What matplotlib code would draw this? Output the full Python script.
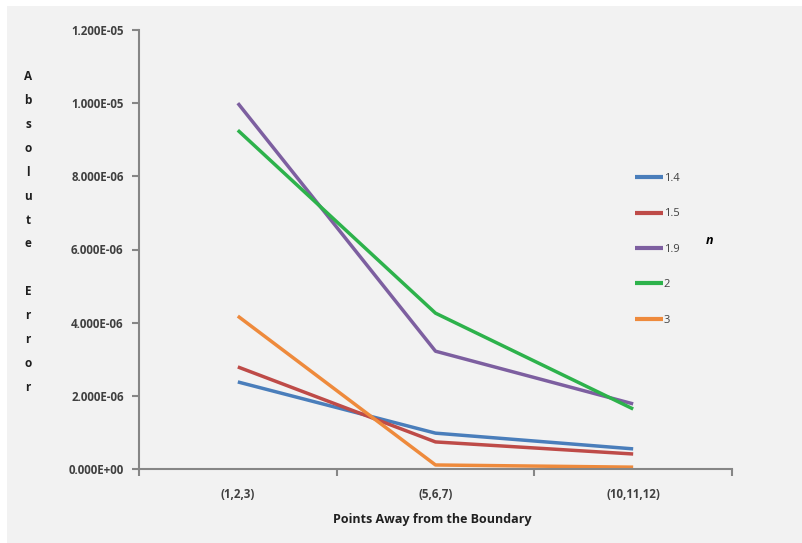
import matplotlib
matplotlib.use('Agg')
import matplotlib.pyplot as plt
from matplotlib.patches import Rectangle

categories = ['(1,2,3)', '(5,6,7)', '(10,11,12)']
series_names = ['1.4', '1.5', '1.9', '2', '3']
err_14 = [2.38e-6, 0.98e-6, 0.55e-6]
err_15 = [2.79e-6, 0.74e-6, 0.41e-6]
err_19 = [10.0e-6, 3.22e-6, 1.78e-6]
err_2 = [9.26e-6, 4.26e-6, 1.64e-6]
err_3 = [4.18e-6, 0.11e-6, 0.05e-6]
yticks = [0, 2e-6, 4e-6, 6e-6, 8e-6, 10e-6, 12e-6]

colors = ['#4A7EBB', '#BE4B48', '#7D5FA0', '#2DB24B', '#EE8A3C']
all_series = [err_14, err_15, err_19, err_2, err_3]

plt.rcParams['font.family'] = ['Open Sans', 'DejaVu Sans']

fig = plt.figure(figsize=(8.03, 5.43), dpi=100)
fig.patch.set_facecolor('white')
# gray chart area like Excel
fig.patches.append(Rectangle((7 / 803, -0.5), 2, 1.5 - 6 / 543, transform=fig.transFigure,
                             facecolor='#F2F2F2', edgecolor='none', zorder=-10))

ax = fig.add_axes([139 / 803, (543 - 469) / 543, (732 - 139) / 803, (469 - 30) / 543])
ax.set_facecolor('#F2F2F2')

xs = range(len(categories))
for name, vals, c in zip(series_names, all_series, colors):
    ax.plot(xs, vals, color=c, lw=2.5, label=name, solid_capstyle='butt')

ax.set_xlim(-0.5, 2.5)
ax.set_ylim(0, 1.2e-5)
ax.set_yticks(yticks)
ax.set_yticklabels(['%.3E' % v for v in yticks])
ax.set_xticks(list(xs))
ax.set_xticklabels(categories)
ax.set_xticks([-0.5, 0.5, 1.5, 2.5], minor=True)
ax.tick_params(axis='x', which='major', length=0, pad=14)
ax.tick_params(axis='x', which='minor', length=5, width=1.5, color='#868686')
ax.tick_params(axis='y', length=5, width=1.5, color='#868686', pad=6)
for lab in ax.get_xticklabels() + ax.get_yticklabels():
    lab.set_fontsize(8.3)
    lab.set_fontweight('bold')
    lab.set_color('#404040')

for s in ['top', 'right']:
    ax.spines[s].set_visible(False)
for s in ['left', 'bottom']:
    ax.spines[s].set_color('#868686')
    ax.spines[s].set_linewidth(1.5)

leg = ax.legend(loc='upper left', bbox_to_anchor=(625 / 803, 1 - 163 / 543),
                bbox_transform=fig.transFigure, frameon=False, fontsize=8,
                handlelength=2.5, handletextpad=0.1, labelspacing=2.2)
for line in leg.get_lines():
    line.set_linewidth(3)
for t in leg.get_texts():
    t.set_color('#404040')

fig.text(710 / 803, 1 - 240 / 543, 'n', fontsize=9, fontweight='bold', style='italic',
         ha='center', va='center')

ylab = '\n'.join(list('Absolute')) + '\n\n' + '\n'.join(list('Error'))
fig.text(28 / 803, 1 - 232 / 543, ylab, fontsize=8.5, fontweight='bold',
         ha='center', va='center', linespacing=2.09, color='#202020')

fig.text(432 / 803, 1 - 520 / 543, 'Points Away from the Boundary', fontsize=9,
         fontweight='bold', ha='center', va='center', color='#202020')

fig.savefig('out.png', dpi=100, facecolor=fig.get_facecolor())
